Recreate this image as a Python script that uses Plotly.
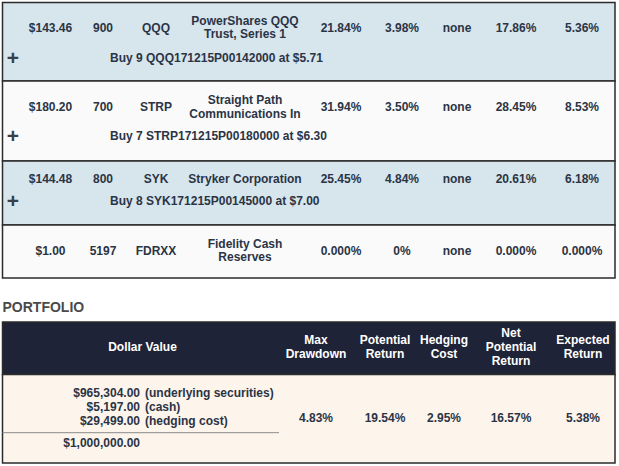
import plotly.graph_objects as go

# holdings table
prices = ["$143.46", "$180.20", "$144.48", "$1.00"]
shares = ["900", "700", "800", "5197"]
tickers = ["QQQ", "STRP", "SYK", "FDRXX"]
names = [
    ["PowerShares QQQ", "Trust, Series 1"],
    ["Straight Path", "Communications In"],
    ["Stryker Corporation"],
    ["Fidelity Cash", "Reserves"],
]
potential_return = ["21.84%", "31.94%", "25.45%", "0.000%"]
max_drawdown = ["3.98%", "3.50%", "4.84%", "0%"]
hedging_cost = ["none", "none", "none", "none"]
net_return = ["17.86%", "28.45%", "20.61%", "0.000%"]
expected_return = ["5.36%", "8.53%", "6.18%", "0.000%"]
hedges = [
    "Buy 9 QQQ171215P00142000 at $5.71",
    "Buy 7 STRP171215P00180000 at $6.30",
    "Buy 8 SYK171215P00145000 at $7.00",
    None,
]

# portfolio summary
pf_headers = [["Max", "Drawdown"], ["Potential", "Return"], ["Hedging", "Cost"],
              ["Net", "Potential", "Return"], ["Expected", "Return"]]
pf_values = ["4.83%", "19.54%", "2.95%", "16.57%", "5.38%"]
dollar_amounts = ["$965,304.00", "$5,197.00", "$29,499.00"]
dollar_labels = ["(underlying securities)", "(cash)", "(hedging cost)"]
dollar_total = "$1,000,000.00"

# layout (pixels)
W, H = 619, 466
LEFT, RIGHT = 2.5, 615
row_top = [2.5, 81, 161, 225]
row_bot = [81, 161, 225, 278]
main_y = [28.5, 108, 180, 251.5]
hedge_y = [59, 137, 202, None]
row_fill = ["#d7e5ed", "#fafafa", "#d7e5ed", "#fafafa"]
col_x = [50.5, 103, 156, 245, 341, 402, 457, 516, 582]
pf_col_x = [316, 385, 444, 511, 583]

TXT = "#2b3445"
BORDER = "#2b2b2b"
FONT = "Liberation Sans"

fig = go.Figure()


def txt(x, y, text, pos="middle center", color=TXT, size=12):
    fig.add_trace(go.Scatter(
        x=x, y=y, text=text, mode="text", textposition=pos, hoverinfo="skip",
        textfont=dict(family=FONT, size=size, color=color, weight="bold"),
        showlegend=False))


# row backgrounds
for i in range(len(prices)):
    fig.add_shape(type="rect", x0=LEFT, x1=RIGHT, y0=row_top[i], y1=row_bot[i],
                  fillcolor=row_fill[i], line=dict(color=BORDER, width=1.5), layer="below")

simple_cols = [prices, shares, tickers, None, potential_return, max_drawdown,
               hedging_cost, net_return, expected_return]
for cx, col in zip(col_x, simple_cols):
    if col is None:
        continue
    txt([cx] * len(col), main_y, col)

# company names, one or two lines
nx, ny, nt = [], [], []
for i, lines in enumerate(names):
    n = len(lines)
    for j, line in enumerate(lines):
        nx.append(col_x[3])
        ny.append(main_y[i] + (j - (n - 1) / 2) * 13.5)
        nt.append(line)
txt(nx, ny, nt)

# hedge lines with "+"
hx, hy, ht = [], [], []
for i, h in enumerate(hedges):
    if h:
        hx.append(110)
        hy.append(hedge_y[i])
        ht.append(h)
txt(hx, hy, ht, pos="middle right")
txt([13] * len(hy), [v + 1 for v in hy], ["+"] * len(hy), size=21, color="#3a3f4a")

# portfolio title
txt([2.5], [308], ["PORTFOLIO"], pos="middle right", color="#4a4a4a", size=14)

# portfolio header + body
fig.add_shape(type="rect", x0=LEFT, x1=RIGHT, y0=322, y1=374.5,
              fillcolor="#1f2337", line=dict(color=BORDER, width=1.5), layer="below")
fig.add_shape(type="rect", x0=LEFT, x1=RIGHT, y0=374.5, y1=463,
              fillcolor="#fdf5ec", line=dict(color=BORDER, width=1.5), layer="below")

txt([142.5], [348], ["Dollar Value"], color="white")
hx, hy, ht = [], [], []
for cx, lines in zip(pf_col_x, pf_headers):
    n = len(lines)
    for j, line in enumerate(lines):
        hx.append(cx)
        hy.append(348 + (j - (n - 1) / 2) * 14)
        ht.append(line)
txt(hx, hy, ht, color="white")
txt(pf_col_x, [419] * len(pf_values), pf_values)

dy = [394, 408.2, 422.4]
txt([140] * 3, dy, dollar_amounts, pos="middle left")
txt([145] * 3, dy, dollar_labels, pos="middle right")
fig.add_shape(type="line", x0=LEFT, x1=279, y0=432.7, y1=432.7,
              line=dict(color="#8a8a8a", width=1))
txt([140], [444], [dollar_total], pos="middle left")

fig.update_layout(
    width=W, height=H, margin=dict(l=0, r=0, t=0, b=0),
    paper_bgcolor="white", plot_bgcolor="white",
    xaxis=dict(range=[0, W], visible=False, fixedrange=True),
    yaxis=dict(range=[H, 0], visible=False, fixedrange=True),
)

fig.write_html("out.html", config={"displayModeBar": False},
               post_script="document.body.style.margin='0px';")
